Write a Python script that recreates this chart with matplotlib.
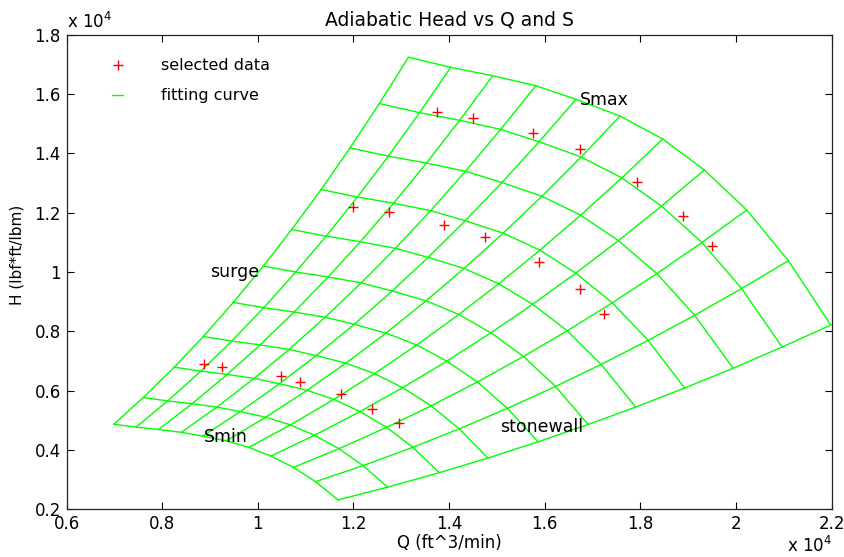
import numpy as np
import matplotlib
matplotlib.use("Agg")
import matplotlib.pyplot as plt
from matplotlib.ticker import FuncFormatter
from matplotlib.lines import Line2D

# Smax speed line, one node per flow line (Q in ft^3/min, H in lbf*ft/lbm)
smax_q = [13150, 14033, 14912, 15811, 16653, 17574, 18466, 19336, 20223, 21093, 21980]
smax_h = [17240, 16902, 16619, 16282, 15823, 15260, 14485, 13440, 12091, 10382, 8214]

# flow at the surge end of every speed line, Smin -> Smax
surge_q = [6987, 7606, 8254, 8860, 9488, 10115, 10709, 11322, 11928, 12541, 13150]

# selected data points
q_sel = [8880, 9250, 10485, 10889, 11740, 12388, 12959,
         11997, 12750, 13900, 14750, 15886, 16743, 17245,
         13753, 14494, 15748, 16743, 17935, 18884, 19503]
h_sel = [6900, 6810, 6494, 6300, 5887, 5380, 4900,
         12202, 12034, 11585, 11190, 10348, 9438, 8585,
         15405, 15203, 14697, 14158, 13045, 11889, 10887]

GREEN = '#00ff00'

# fan laws: Q ~ S, H ~ S^2 -> mesh of speed lines x flow lines
ratio = np.array(surge_q) / surge_q[-1]
Q = np.outer(ratio, smax_q)
H = np.outer(ratio ** 2, smax_h)

fig = plt.figure(figsize=(8.45, 5.57), dpi=100)
ax = fig.add_axes([0.0787, 0.0856, 0.9056, 0.852])

for i in range(Q.shape[0]):
    ax.plot(Q[i], H[i], color=GREEN, lw=1.0)
for j in range(Q.shape[1]):
    ax.plot(Q[:, j], H[:, j], color=GREEN, lw=1.0)

ax.plot(q_sel, h_sel, '+', color='red', ms=7.5, mew=1.0)

ax.text(9000, 10000, 'surge', fontsize=12.5, va='center')
ax.text(16740, 15800, 'Smax', fontsize=12.5, va='center')
ax.text(8880, 4450, 'Smin', fontsize=12.5, va='center')
ax.text(15060, 4790, 'stonewall', fontsize=12.5, va='center')

ax.set_xlim(6000, 22000)
ax.set_ylim(2000, 18000)
ax.set_xticks(np.arange(6000, 22001, 2000))
ax.set_yticks(np.arange(2000, 18001, 2000))
fmt = FuncFormatter(lambda v, _: f"{v / 1e4:g}")
ax.xaxis.set_major_formatter(fmt)
ax.yaxis.set_major_formatter(fmt)
ax.tick_params(direction='in', top=True, right=True, length=5, width=0.8,
               labelsize=12, pad=4)
for sp in ax.spines.values():
    sp.set_linewidth(0.9)
    sp.set_color('#222222')

ax.text(0, 1.014, r'x 10$^4$', transform=ax.transAxes, fontsize=12,
        ha='left', va='baseline')
ax.text(1, -0.090, r'x 10$^4$', transform=ax.transAxes, fontsize=12,
        ha='right', va='baseline')

ax.set_title('Adiabatic Head vs Q and S', fontsize=13.5, pad=7)
ax.set_xlabel('Q (ft^3/min)', fontsize=12, labelpad=1)
ax.set_ylabel('H (lbf*ft/lbm)', fontsize=11)
ax.yaxis.set_label_coords(-0.0545, 0.536)

handles = [Line2D([], [], ls='none', marker='+', color='red', ms=7.5, mew=1.0),
           Line2D([], [], color=GREEN, lw=1.0)]
ax.legend(handles, ['selected data', 'fitting curve'], loc='upper left',
          bbox_to_anchor=(0.051, 0.964), borderaxespad=0, frameon=False,
          fontsize=11.5, handlelength=0.7, handletextpad=2.4, labelspacing=0.95)

fig.savefig('out.png', dpi=100)
